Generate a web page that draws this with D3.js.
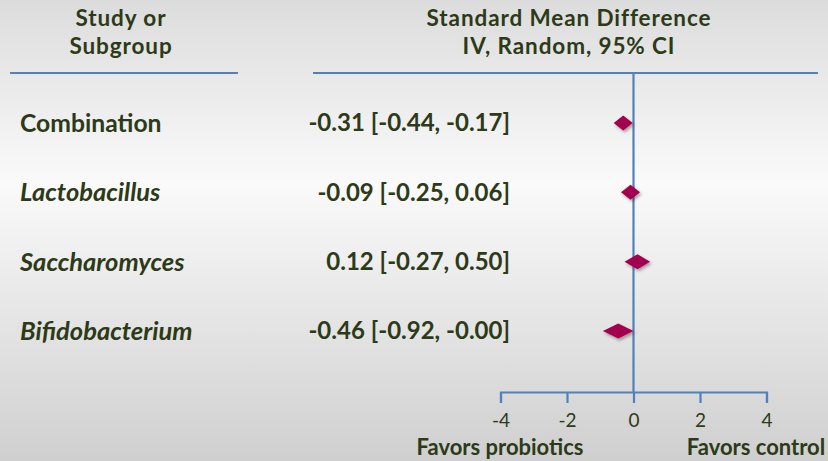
<!DOCTYPE html>
<html>
<head>
<meta charset="utf-8">
<script src="https://cdn.jsdelivr.net/npm/d3@7"></script>
<style>
html,body{margin:0;padding:0;}
svg{display:block;}
text{font-family:Lato, "Open Sans", sans-serif;}
</style>
</head>
<body>
<svg id="chart" width="828" height="461"></svg>
<script>
const categories = ["Combination", "Lactobacillus", "Saccharomyces", "Bifidobacterium"];
const italicFlags = [false, true, true, true];
const estimates = [-0.31, -0.09, 0.12, -0.46];
const lowerCI = [-0.44, -0.25, -0.27, -0.92];
const upperCI = [-0.17, 0.06, 0.50, -0.00];
const ciLabels = ["-0.31 [-0.44, -0.17]", "-0.09 [-0.25, 0.06]", "0.12 [-0.27, 0.50]", "-0.46 [-0.92, -0.00]"];
const tickValues = [-4, -2, 0, 2, 4];
const headerLeft = ["Study or", "Subgroup"];
const headerRight = ["Standard Mean Difference", "IV, Random, 95% CI"];
const favorLabels = ["Favors probiotics", "Favors control"];

const W = 828, H = 461;
const textColor = "#2c3a18";
const blue = "#4f81bd";
const diamondColor = "#a3004f";

const svg = d3.select("#chart");
const defs = svg.append("defs");
const grad = defs.append("linearGradient").attr("id","bg").attr("x1",0).attr("y1",0).attr("x2",0).attr("y2",1);
[[0,"#dcdcdc"],[0.4,"#fafafa"],[1,"#cfcfcf"]].forEach(([o,c])=>grad.append("stop").attr("offset",o).attr("stop-color",c));
const shadow = defs.append("filter").attr("id","sh").attr("x","-50%").attr("y","-50%").attr("width","200%").attr("height","200%");
shadow.append("feDropShadow").attr("dx",1.5).attr("dy",2).attr("stdDeviation",1.5).attr("flood-color","#000").attr("flood-opacity",0.35);

svg.append("rect").attr("width",W).attr("height",H).attr("fill","url(#bg)");

const x = d3.scaleLinear().domain([-4,4]).range([500.5,766.5]);
const y = d3.scalePoint().domain(categories).range([123,331]);
const axisY = 392;
const topY = 73;

// header lines
svg.append("line").attr("x1",10).attr("x2",238).attr("y1",topY).attr("y2",topY).attr("stroke",blue).attr("stroke-width",2.2);
svg.append("line").attr("x1",313).attr("x2",818).attr("y1",topY).attr("y2",topY).attr("stroke",blue).attr("stroke-width",2.2);
// zero line
svg.append("line").attr("x1",x(0)).attr("x2",x(0)).attr("y1",topY).attr("y2",axisY).attr("stroke",blue).attr("stroke-width",2.2);

// axis
const axis = d3.axisBottom(x).tickValues(tickValues).tickSize(11).tickSizeOuter(11).tickFormat(d3.format("d"));
const gAxis = svg.append("g").attr("transform",`translate(0,${axisY})`).call(axis);
gAxis.select(".domain").attr("stroke",blue).attr("stroke-width",2.2).attr("fill","none");
gAxis.selectAll(".tick line").attr("stroke",blue).attr("stroke-width",2.2);
gAxis.selectAll(".tick text").attr("fill",textColor).attr("font-size",19).attr("font-family","Lato, sans-serif").attr("y",22).attr("dy","0.71em")
  .text(d=> d<0 ? "-"+Math.abs(d) : d);

// headers
svg.selectAll(".hl").data(headerLeft).enter().append("text")
  .attr("x",121).attr("y",(d,i)=>26+i*27.5).attr("text-anchor","middle")
  .attr("font-size",22.5).attr("letter-spacing",0.9).attr("font-weight","bold").attr("fill",textColor).text(d=>d);
svg.selectAll(".hr").data(headerRight).enter().append("text")
  .attr("x",569).attr("y",(d,i)=>26+i*27.5).attr("text-anchor","middle")
  .attr("font-size",22.5).attr("letter-spacing",0.9).attr("font-weight","bold").attr("fill",textColor).text(d=>d);

// row labels
svg.selectAll(".lab").data(categories).enter().append("text")
  .attr("x",20).attr("y",d=>y(d)).attr("dy","0.35em")
  .attr("font-size",(d,i)=>italicFlags[i]?25.5:24.7).attr("font-weight","bold")
  .attr("font-style",(d,i)=>italicFlags[i]?"italic":"normal")
  .attr("fill",textColor).text(d=>d);

// CI labels
svg.selectAll(".ci").data(ciLabels).enter().append("text")
  .attr("x",510).attr("y",(d,i)=>y(categories[i])).attr("dy","0.35em").attr("text-anchor","end")
  .attr("font-size",24).attr("font-weight","bold").attr("fill",textColor).text(d=>d);

// diamonds
const minHalf = 9.5, halfH = 7.5;
svg.selectAll(".dia").data(categories).enter().append("path")
  .attr("d",(d,i)=>{
    const cx = x(estimates[i]), cy = y(d);
    const l = Math.min(x(lowerCI[i]), cx-minHalf), r = Math.max(x(upperCI[i]), cx+minHalf);
    return `M${l},${cy} L${cx},${cy-halfH} L${r},${cy} L${cx},${cy+halfH} Z`;
  })
  .attr("fill",diamondColor).attr("filter","url(#sh)");

// favors labels
svg.append("text").attr("x",500).attr("y",455).attr("text-anchor","middle").attr("font-size",22).attr("font-weight","bold").attr("fill",textColor).text(favorLabels[0]);
svg.append("text").attr("x",756).attr("y",455).attr("text-anchor","middle").attr("font-size",22).attr("font-weight","bold").attr("fill",textColor).text(favorLabels[1]);
</script>
</body>
</html>
